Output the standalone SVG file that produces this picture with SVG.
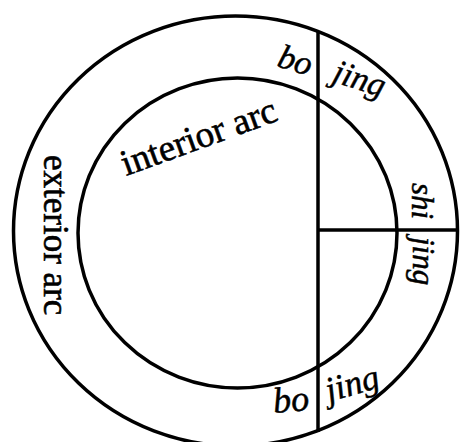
<svg xmlns="http://www.w3.org/2000/svg" width="461" height="442" viewBox="0 0 461 442">
<style>
.ln{fill:none;stroke:#000;stroke-width:3.5}
.t{font-family:"Liberation Serif","Times New Roman",serif;fill:#000;stroke:#000;stroke-width:0.6}
.it{font-family:"Liberation Serif","Times New Roman",serif;font-style:italic;fill:#000;stroke:#000;stroke-width:0.5}
</style>
<rect width="461" height="442" fill="#fff"/>
<g id="exterior">
<ellipse class="ln" cx="235.5" cy="231" rx="222" ry="215"/>
<text class="t" font-size="35" transform="translate(44,155) rotate(90)">exterior arc</text>
</g>
<g id="interior">
<ellipse class="ln" cx="237.5" cy="233" rx="159.5" ry="155"/>
<text class="t" font-size="37" transform="translate(126,176) rotate(-20)">interior arc</text>
</g>
<g id="connectors">
<line class="ln" x1="318" y1="31" x2="318" y2="432"/>
<line class="ln" x1="318" y1="230" x2="458" y2="230"/>
</g>
<g id="labels">
<text class="it" font-size="34" transform="translate(276,66) rotate(17)">bo</text>
<text class="it" font-size="34" transform="translate(331,81) rotate(18)">jing</text>
<text class="it" font-size="31" transform="translate(412,183) rotate(90)">shi</text>
<text class="it" font-size="31" transform="translate(413,237) rotate(90)">jing</text>
<text class="it" font-size="36" transform="translate(274,413) rotate(-5)">bo</text>
<text class="it" font-size="35" transform="translate(329,402) rotate(-16)">jing</text>
</g>
</svg>
